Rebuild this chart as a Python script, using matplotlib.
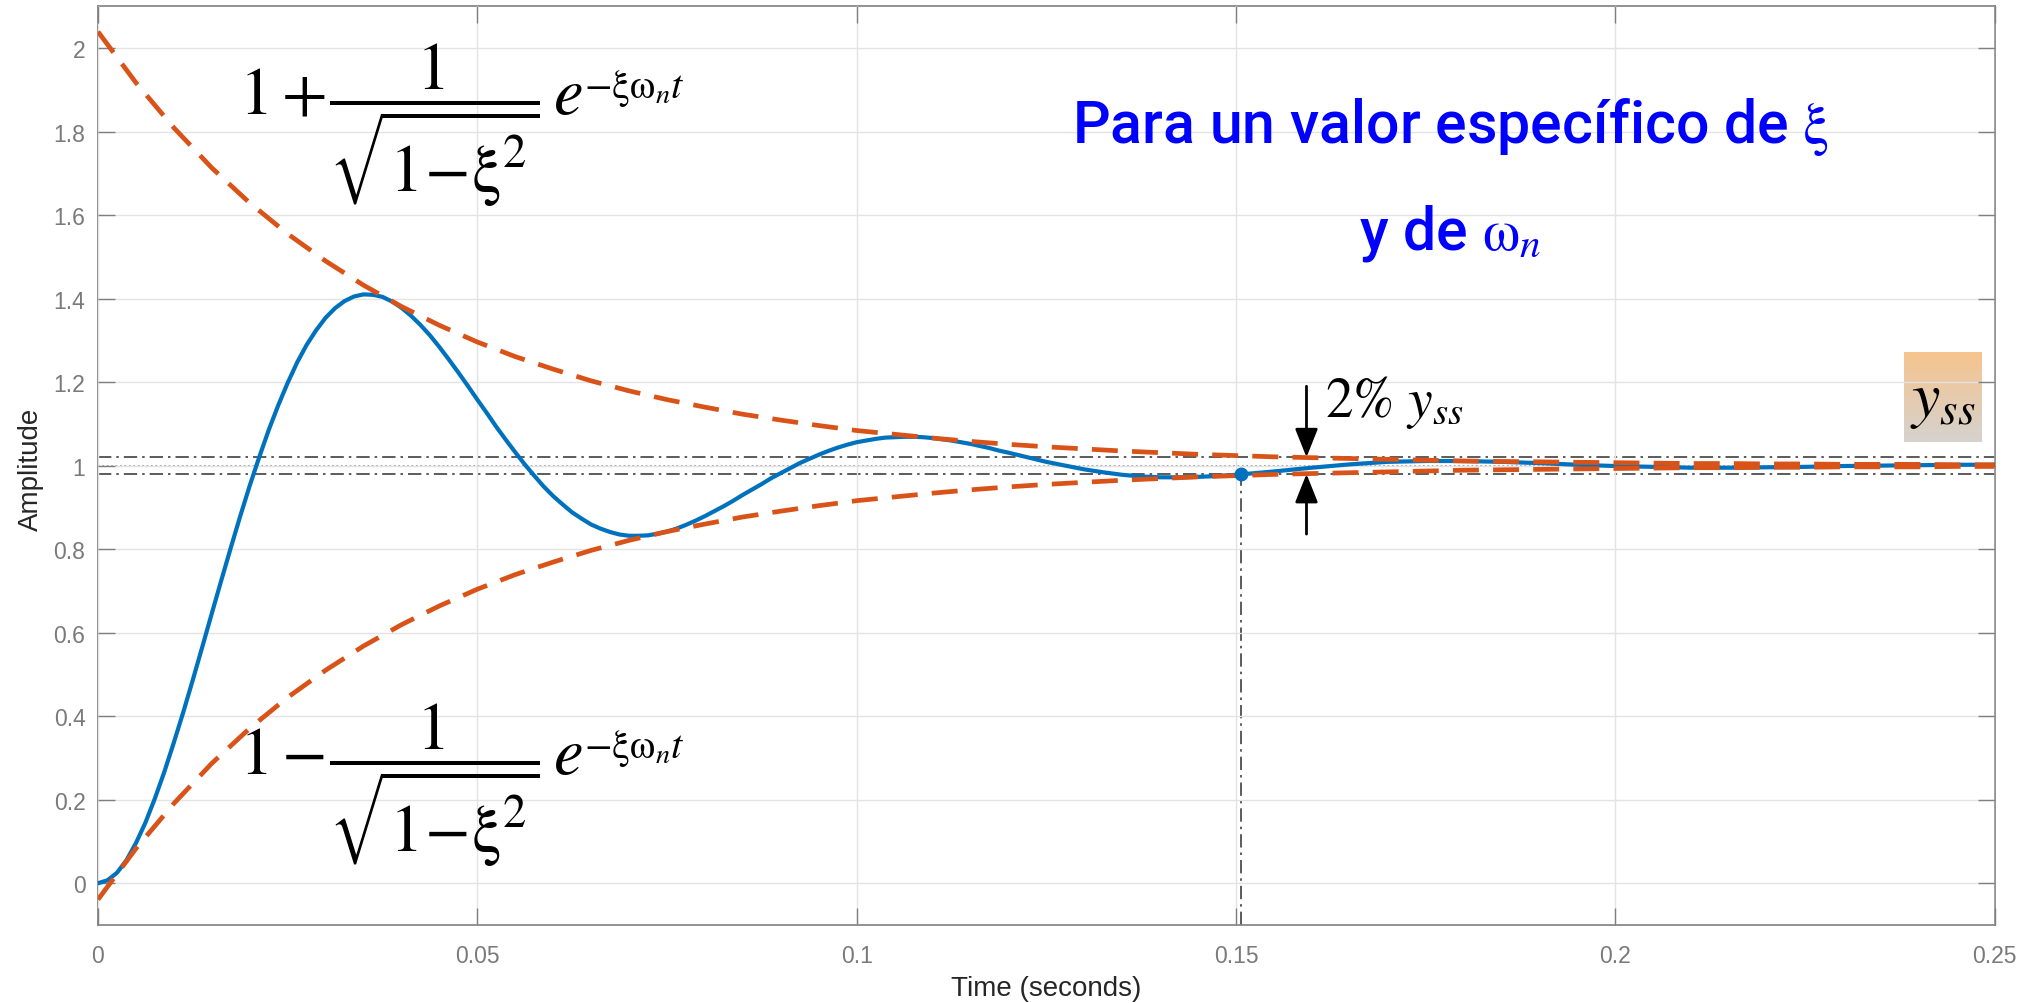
import numpy as np
import matplotlib
matplotlib.use("Agg")
import matplotlib.pyplot as plt
from matplotlib.patches import Rectangle

plt.rcParams['mathtext.fontset'] = 'stix'

# step response samples (s, amplitude)
t_resp = [0.0, 0.00125, 0.0025, 0.00375, 0.005, 0.00625, 0.0075, 0.00875, 0.01, 0.01125,
          0.0125, 0.01375, 0.015, 0.01625, 0.0175, 0.01875, 0.02, 0.02125, 0.0225, 0.02375,
          0.025, 0.02625, 0.0275, 0.02875, 0.03, 0.03125, 0.0325, 0.03375, 0.035, 0.03625,
          0.0375, 0.03875, 0.04, 0.04125, 0.0425, 0.04375, 0.045, 0.04625, 0.0475, 0.04875,
          0.05, 0.05125, 0.0525, 0.05375, 0.055, 0.05625, 0.0575, 0.05875, 0.06, 0.06125,
          0.0625, 0.06375, 0.065, 0.06625, 0.0675, 0.06875, 0.07, 0.07125, 0.0725, 0.07375,
          0.075, 0.07625, 0.0775, 0.07875, 0.08, 0.08125, 0.0825, 0.08375, 0.085, 0.08625,
          0.0875, 0.08875, 0.09, 0.09125, 0.0925, 0.09375, 0.095, 0.09625, 0.0975, 0.09875,
          0.1, 0.10125, 0.1025, 0.10375, 0.105, 0.10625, 0.1075, 0.10875, 0.11, 0.11125,
          0.1125, 0.11375, 0.115, 0.11625, 0.1175, 0.11875, 0.12,
          0.1225, 0.125, 0.1275, 0.13, 0.1325, 0.135, 0.1375, 0.14, 0.1425, 0.145, 0.1475,
          0.15, 0.155, 0.16, 0.165, 0.17, 0.175, 0.18, 0.185, 0.19, 0.195,
          0.2, 0.205, 0.21, 0.215, 0.22, 0.225, 0.23, 0.235, 0.24, 0.245, 0.25]
y_resp = [0.0, 0.007, 0.025, 0.055, 0.096, 0.145, 0.203, 0.267, 0.337, 0.410,
          0.487, 0.566, 0.646, 0.725, 0.803, 0.879, 0.952, 1.020, 1.085, 1.144,
          1.198, 1.247, 1.289, 1.324, 1.354, 1.377, 1.394, 1.405, 1.410, 1.409,
          1.404, 1.393, 1.378, 1.359, 1.337, 1.312, 1.284, 1.254, 1.223, 1.191,
          1.158, 1.126, 1.093, 1.062, 1.032, 1.003, 0.976, 0.950, 0.927, 0.907,
          0.888, 0.873, 0.859, 0.849, 0.841, 0.835, 0.832, 0.832, 0.833, 0.837,
          0.842, 0.849, 0.858, 0.868, 0.879, 0.891, 0.903, 0.916, 0.930, 0.943,
          0.956, 0.970, 0.982, 0.994, 1.006, 1.016, 1.026, 1.035, 1.043, 1.050,
          1.056, 1.060, 1.064, 1.067, 1.068, 1.069, 1.069, 1.068, 1.066, 1.063,
          1.060, 1.056, 1.052, 1.047, 1.042, 1.036, 1.031,
          1.020, 1.009, 1.000, 0.991, 0.984, 0.978, 0.974, 0.972, 0.972, 0.973, 0.975,
          0.978, 0.986, 0.995, 1.003, 1.009, 1.011, 1.011, 1.009, 1.006, 1.002,
          0.999, 0.997, 0.995, 0.995, 0.996, 0.997, 0.999, 1.000, 1.001, 1.002, 1.002]

# envelope half-width around y_ss
t_env = [0.0, 0.005, 0.01, 0.015, 0.02, 0.025, 0.03, 0.035, 0.04, 0.045,
         0.05, 0.055, 0.06, 0.065, 0.07, 0.075, 0.08, 0.085, 0.09, 0.095,
         0.1, 0.105, 0.11, 0.115, 0.12, 0.125, 0.13, 0.135, 0.14, 0.145,
         0.15, 0.155, 0.16, 0.165, 0.17, 0.175, 0.18, 0.185, 0.19, 0.195,
         0.2, 0.205, 0.21, 0.215, 0.22, 0.225, 0.23, 0.235, 0.24, 0.245, 0.25]
env_dev = [1.039, 0.917, 0.809, 0.713, 0.629, 0.555, 0.490, 0.432, 0.381, 0.336,
           0.296, 0.261, 0.231, 0.203, 0.179, 0.158, 0.140, 0.123, 0.109, 0.096,
           0.084, 0.075, 0.066, 0.058, 0.051, 0.045, 0.040, 0.035, 0.031, 0.027,
           0.024, 0.021, 0.019, 0.017, 0.015, 0.013, 0.011, 0.010, 0.009, 0.008,
           0.007, 0.006, 0.005, 0.005, 0.004, 0.004, 0.003, 0.003, 0.003, 0.002, 0.002]

y_ss = 1.0
band = 0.02
t_settle = 0.1507
y_settle = 0.98

xticks = [0, 0.05, 0.1, 0.15, 0.2, 0.25]
xticklabels = ['0', '0.05', '0.1', '0.15', '0.2', '0.25']
yticks = [0, 0.2, 0.4, 0.6, 0.8, 1, 1.2, 1.4, 1.6, 1.8, 2]
yticklabels = ['0', '0.2', '0.4', '0.6', '0.8', '1', '1.2', '1.4', '1.6', '1.8', '2']

blue = '#0072BD'
orange = '#D95319'

fig = plt.figure(figsize=(20.33, 10.04), dpi=100)
ax = fig.add_axes([0.0482, 0.0777, 0.9329, 0.9151])

env_up = [y_ss + d for d in env_dev]
env_lo = [y_ss - d for d in env_dev]

ax.plot(t_resp, y_resp, color=blue, lw=3.0, zorder=3, solid_joinstyle='round')
ax.plot(t_env, env_up, color=orange, lw=3.4, dashes=(5.5, 3), zorder=4)
ax.plot(t_env, env_lo, color=orange, lw=3.4, dashes=(5.5, 3), zorder=4)

# settling band, steady state and settling time
ax.axhline(y_ss + band, color='#404040', lw=1.2, dashes=(8, 3, 1.5, 3), zorder=2.5)
ax.axhline(y_ss - band, color='#404040', lw=1.2, dashes=(8, 3, 1.5, 3), zorder=2.5)
ax.axhline(y_ss, color='#8a8a8a', lw=1.2, ls=':', zorder=2.4)
ax.plot([t_settle, t_settle], [-0.1, y_settle], color='#404040', lw=1.2,
        dashes=(8, 3, 1.5, 3), zorder=2.5)
ax.plot([t_settle], [y_settle], 'o', color=blue, ms=9, zorder=5)

# arrows marking the 2% band
arrow = dict(arrowstyle='-|>,head_length=0.7,head_width=0.28', color='k', lw=2,
             mutation_scale=25, shrinkA=0, shrinkB=0)
ax.annotate('', xy=(0.1593, y_ss + band), xytext=(0.1593, 1.19), arrowprops=arrow, zorder=6)
ax.annotate('', xy=(0.1593, y_ss - band), xytext=(0.1593, 0.836), arrowprops=arrow, zorder=6)
ax.text(0.1617, 1.119, r'$\mathrm{2\%}\ y_{ss}$', fontsize=40, va='baseline', ha='left',
        color='k', zorder=6)

# envelope formulas: body, then a smaller exponent after the e
upper_eq = r'$1+\!\dfrac{1}{\sqrt{1\!-\!\mathrm{\xi}^{2}}}\,e$'
lower_eq = r'$1-\!\dfrac{1}{\sqrt{1\!-\!\mathrm{\xi}^{2}}}\,e$'
exponent = r'$-\mathrm{\xi\omega}_{n}t$'
for eq, yc in [(upper_eq, 1.818), (lower_eq, 0.238)]:
    body = ax.text(0.0186, yc, eq, fontsize=48, va='center', ha='left', zorder=6)
    ax.annotate(exponent, xy=(1.0, 0.66), xycoords=body, xytext=(0.5, 0),
                textcoords='offset points', fontsize=29, ha='left', va='baseline',
                zorder=6)

# caption on a white panel
ax.add_patch(Rectangle((0.1237, 1.466), 0.109, 0.4765, facecolor='white',
                       edgecolor='none', zorder=1.6))
ax.text(0.1783, 1.775, r'Para un valor específico de $\mathrm{\xi}$', fontsize=42.5,
        family='Roboto', fontweight='medium', color='#0000FF', ha='center',
        va='baseline', zorder=6)
ax.text(0.1783, 1.519, r'y de $\mathrm{\omega}_{n}$', fontsize=42.5, family='Roboto',
        fontweight='medium', color='#0000FF', ha='center', va='baseline', zorder=6)

# y_ss tag with a gradient fill
grad = np.linspace(0, 1, 64)[:, None]
top_c = np.array([246, 196, 142]) / 255
bot_c = np.array([214, 210, 206]) / 255
img = top_c[None, None, :] * (1 - grad[:, :, None]) + bot_c[None, None, :] * grad[:, :, None]
ax.imshow(img, extent=(0.2381, 0.2483, 1.0563, 1.2695), aspect='auto',
          origin='upper', zorder=1.0)
ax.text(0.2432, 1.16, r'$y_{ss}$', fontsize=46, ha='center', va='center', zorder=6)

ax.set_xlim(0, 0.25)
ax.set_ylim(-0.1, 2.1)
ax.set_xticks(xticks)
ax.set_xticklabels(xticklabels)
ax.set_yticks(yticks)
ax.set_yticklabels(yticklabels)

ax.grid(True, color='#e3e3e3', lw=1.0)
ax.set_axisbelow(False)
for s in ax.spines.values():
    s.set_color('#7f7f7f')
    s.set_linewidth(1.2)
ax.tick_params(direction='in', length=12, width=1.0, color='#7f7f7f',
               top=True, right=True, labelsize=16.5, labelcolor='#7a7a7a',
               labelfontfamily='Liberation Sans')
ax.tick_params(axis='x', pad=14)
ax.tick_params(axis='y', pad=9)

fig.text(0.015, 0.532, 'Amplitude', rotation=90, fontsize=20, family='Liberation Sans',
         color='#262626', ha='center', va='center')
fig.text(0.5145, 0.0075, 'Time (seconds)', fontsize=20, family='Liberation Sans',
         color='#262626', ha='center', va='baseline')

fig.savefig('out.png', dpi=100)
